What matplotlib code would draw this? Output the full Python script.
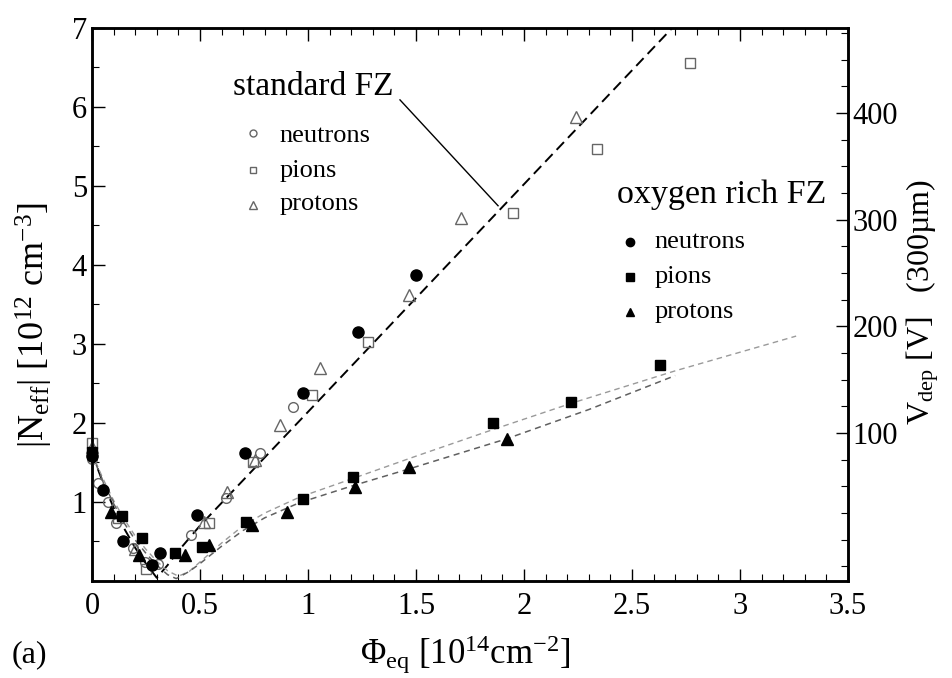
import matplotlib
matplotlib.use("Agg")
import matplotlib.pyplot as plt
from matplotlib.ticker import MultipleLocator

plt.rcParams['font.family'] = ['Liberation Serif', 'DejaVu Serif']
plt.rcParams['mathtext.fontset'] = 'custom'
plt.rcParams['mathtext.rm'] = 'Liberation Serif'
plt.rcParams['mathtext.it'] = 'Liberation Serif:italic'

# fluence in 1e14 cm^-2, |Neff| in 1e12 cm^-3
# standard FZ (open symbols)
std_n_x = [0.0, 0.03, 0.075, 0.11, 0.19, 0.245, 0.305, 0.46, 0.62, 0.78, 0.93]
std_n_y = [1.55, 1.24, 1.0, 0.73, 0.42, 0.24, 0.22, 0.58, 1.05, 1.62, 2.2]
std_pi_x = [0.0, 0.12, 0.25, 0.54, 0.745, 1.02, 1.28, 1.95, 2.34, 2.77]
std_pi_y = [1.75, 0.8, 0.15, 0.73, 1.5, 2.35, 3.03, 4.66, 5.47, 6.56]
std_p_x = [0.0, 0.2, 0.52, 0.625, 0.755, 0.87, 1.055, 1.47, 1.71, 2.24]
std_p_y = [1.7, 0.4, 0.75, 1.13, 1.53, 1.97, 2.7, 3.62, 4.6, 5.87]

# oxygen rich FZ (filled symbols)
oxy_n_x = [0.0, 0.05, 0.145, 0.28, 0.315, 0.486, 0.71, 0.975, 1.23, 1.5]
oxy_n_y = [1.58, 1.15, 0.5, 0.2, 0.35, 0.84, 1.62, 2.38, 3.15, 3.87]
oxy_pi_x = [0.0, 0.14, 0.23, 0.385, 0.51, 0.715, 0.975, 1.21, 1.857, 2.22, 2.63]
oxy_pi_y = [1.63, 0.82, 0.54, 0.35, 0.43, 0.75, 1.04, 1.31, 2.0, 2.27, 2.73]
oxy_p_x = [0.09, 0.22, 0.43, 0.54, 0.74, 0.905, 1.22, 1.47, 1.92]
oxy_p_y = [0.87, 0.33, 0.33, 0.46, 0.71, 0.87, 1.19, 1.44, 1.8]

# fit curves
fit_std_x = [0.0, 0.05, 0.1, 0.15, 0.2, 0.25, 0.3, 0.35, 0.4, 0.5, 0.75, 1.0, 2.7]
fit_std_y = [1.62, 1.25, 0.93, 0.66, 0.42, 0.22, 0.04, 0.2, 0.38, 0.7, 1.42, 2.14, 7.04]
fit_oxy1_x = [0.0, 0.05, 0.1, 0.15, 0.2, 0.25, 0.3, 0.35, 0.4, 0.45, 0.5, 0.6, 0.7,
              0.8, 0.96, 1.2, 1.5, 1.86, 2.22, 2.7, 3.26]
fit_oxy1_y = [1.62, 1.3, 1.02, 0.78, 0.57, 0.4, 0.25, 0.13, 0.06, 0.12, 0.24, 0.48, 0.7,
              0.86, 1.06, 1.29, 1.58, 1.92, 2.25, 2.66, 3.1]
fit_oxy2_x = [0.0, 0.05, 0.1, 0.15, 0.2, 0.25, 0.3, 0.35, 0.39, 0.45, 0.5, 0.6, 0.7,
              0.8, 0.96, 1.2, 1.47, 1.92, 2.3, 2.7]
fit_oxy2_y = [1.6, 1.27, 0.98, 0.73, 0.52, 0.35, 0.2, 0.08, 0.03, 0.12, 0.22, 0.44, 0.64,
              0.8, 0.99, 1.2, 1.42, 1.8, 2.17, 2.6]

x_ticks = [0, 0.5, 1, 1.5, 2, 2.5, 3, 3.5]
x_tick_labels = ['0', '0.5', '1', '1.5', '2', '2.5', '3', '3.5']
y_ticks = [1, 2, 3, 4, 5, 6, 7]
v_ticks = [100, 200, 300, 400]

fig = plt.figure(figsize=(9.53, 6.78), dpi=100)
ax = fig.add_axes([0.0965, 0.1431, 0.7933, 0.8156])

gray = '#666666'
ax.plot(fit_std_x, fit_std_y, color='black', lw=1.4, ls=(0, (5.5, 3)))
ax.plot(fit_oxy1_x, fit_oxy1_y, color='#9a9a9a', lw=1.0, ls=(0, (4, 3)))
ax.plot(fit_oxy2_x, fit_oxy2_y, color='#606060', lw=1.1, ls=(0, (4, 3)))

open_kw = dict(ls='none', mfc='none', mec=gray, mew=1.0, clip_on=False, zorder=3)
ax.plot(std_n_x, std_n_y, marker='o', ms=7, **open_kw)
ax.plot(std_pi_x, std_pi_y, marker='s', ms=7, **open_kw)
ax.plot(std_p_x, std_p_y, marker='^', ms=8, **open_kw)

fill_kw = dict(ls='none', color='black', clip_on=False, zorder=4)
ax.plot(oxy_n_x, oxy_n_y, marker='o', ms=8, **fill_kw)
ax.plot(oxy_pi_x, oxy_pi_y, marker='s', ms=7.5, **fill_kw)
ax.plot(oxy_p_x, oxy_p_y, marker='^', ms=8.5, **fill_kw)

# legend blocks drawn by hand
ax.text(0.653, 6.15, 'standard FZ', fontsize=24, ha='left', va='baseline')
ax.plot([1.426, 1.88], [6.09, 4.75], color='black', lw=1.0)
ax.plot([0.745], [5.67], marker='o', ms=5, ls='none', mfc='none', mec=gray, mew=1.0)
ax.plot([0.745], [5.20], marker='s', ms=5, ls='none', mfc='none', mec=gray, mew=1.0)
ax.plot([0.745], [4.76], marker='^', ms=5.5, ls='none', mfc='none', mec=gray, mew=1.0)
ax.text(0.87, 5.56, 'neutrons', fontsize=19, va='baseline')
ax.text(0.87, 5.11, 'pions', fontsize=19, va='baseline')
ax.text(0.87, 4.70, 'protons', fontsize=19, va='baseline')

ax.text(2.43, 4.78, 'oxygen rich FZ', fontsize=24.5, ha='left', va='baseline')
ax.plot([2.49], [4.29], marker='o', ms=6, ls='none', color='black')
ax.plot([2.49], [3.85], marker='s', ms=5.5, ls='none', color='black')
ax.plot([2.49], [3.41], marker='^', ms=6, ls='none', color='black')
ax.text(2.606, 4.22, 'neutrons', fontsize=19, va='baseline')
ax.text(2.606, 3.77, 'pions', fontsize=19, va='baseline')
ax.text(2.606, 3.33, 'protons', fontsize=19, va='baseline')

ax.set_xlim(0, 3.5)
ax.set_ylim(0, 7)
ax.set_xticks(x_ticks)
ax.set_xticklabels(x_tick_labels)
ax.set_yticks(y_ticks)
ax.xaxis.set_minor_locator(MultipleLocator(0.1))
ax.yaxis.set_minor_locator(MultipleLocator(0.5))
ax.tick_params(which='both', direction='in', top=True, right=False, labelsize=22)
ax.tick_params(which='major', length=9, width=1.0)
ax.tick_params(which='minor', length=5, width=0.8)
ax.tick_params(axis='x', pad=8)
for s in ax.spines.values():
    s.set_linewidth(1.8)

# depletion voltage scale for 300 um thick detectors
ax2 = ax.twinx()
ax2.set_ylim(-38.7, 479.7)
ax2.set_yticks(v_ticks)
ax2.yaxis.set_minor_locator(MultipleLocator(25))
ax2.tick_params(which='both', direction='in', labelsize=22)
ax2.tick_params(which='major', length=9, width=1.0)
ax2.tick_params(which='minor', length=5, width=0.8)
for s in ax2.spines.values():
    s.set_linewidth(1.8)

fig.text(0.488, 0.034, r'$\Phi_{\rm eq}$ [10$^{14}$cm$^{-2}$]', fontsize=25,
         ha='center', va='center')
fig.text(0.031, 0.034, '(a)', fontsize=23, ha='center', va='center')
fig.text(0.036, 0.52, r'|N$_{\rm eff}$| [10$^{12}$ cm$^{-3}$]', fontsize=26,
         rotation=90, ha='center', va='center')
fig.text(0.968, 0.555, 'V$_{\\rm dep}$ [V]   (300\u00b5m)', fontsize=23,
         rotation=90, ha='center', va='center')

fig.savefig('out.png', dpi=100)
